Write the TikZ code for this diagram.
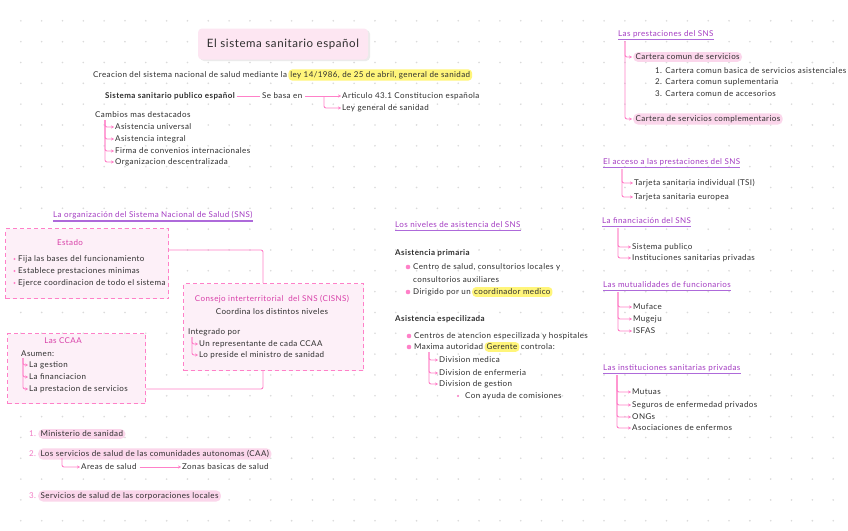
\documentclass[tikz,border=0pt]{standalone}
\usepackage{fontspec}
\setmainfont{Lato}[LetterSpace=5]
\usetikzlibrary{arrows.meta}
\definecolor{pk}{HTML}{FF80C8}
\definecolor{pkfill}{HTML}{FDF0F8}
\definecolor{pill}{HTML}{FBD6EB}
\definecolor{mag}{HTML}{D83FA8}
\definecolor{num}{HTML}{F27CC4}
\definecolor{pur}{HTML}{A43CC2}
\definecolor{purl}{HTML}{AE6ADA}
\definecolor{hl}{HTML}{FFF57A}
\definecolor{dotc}{HTML}{DADADA}
\definecolor{txt}{HTML}{2E2E2E}
\definecolor{ttl}{HTML}{FDE6F2}
\tikzset{
  t/.style={anchor=west, inner sep=0pt, font=\fontsize{8}{9}\selectfont, text=txt},
  tb/.style={t, font=\fontsize{8}{9}\selectfont\bfseries},
  conn/.style={draw=pk, line width=0.9pt, rounded corners=2pt},
  arr/.style={conn, -{Stealth[length=3pt,width=3.2pt]}, shorten >=1pt},
  hdr/.style={t, text=pur},
  ul/.style={draw=purl, line width=1.2pt},
  hlbox/.style={t, fill=hl, rounded corners=4pt, inner xsep=2pt, inner ysep=2pt},
  pillbox/.style={t, fill=pill, rounded corners=5pt, inner xsep=2.5pt, inner ysep=2pt},
  dbox/.style={draw=pk, dash pattern=on 4pt off 3pt, line width=1.1pt, fill=pkfill, anchor=north west, inner sep=0pt},
  mg/.style={t, text=mag, anchor=center},
  bul/.style={fill=pk, draw=none},
  nm/.style={t, text=num},
  ttlbox/.style={fill=ttl, rounded corners=4pt, minimum width=170pt, minimum height=31pt, font=\fontsize{11.5}{13}\selectfont, text=txt},
}
\begin{document}
\begin{tikzpicture}[x=1pt,y=-1pt]
\useasboundingbox[fill=white] (0,0) rectangle (848,530);
% dot grid
\foreach \i in {1,...,40}{\foreach \j in {1,...,25}{\fill[dotc] (\i*20.83,\j*20.83) circle (0.9);}}

% title
\fill[black!8, rounded corners=4pt] (200,30) rectangle (370,61);
\node[ttlbox] (title) at (283,44) {El sistema sanitario español};

% creation line
\node[t] (cre) at (93,75) {Creacion del sistema nacional de salud mediante la};
\node[hlbox, anchor=west] (ley) at ([xshift=1pt]cre.east) {ley 14/1986, de 25 de abril, general de sanidad};

\node[tb] (sis) at (105,96) {Sistema sanitario publico español};
\node[t] (base) at (262,96) {Se basa en};
\node[t] (art) at (342,96) {Articulo 43.1 Constitucion española};
\node[t] (lgs) at (342,108) {Ley general de sanidad};
\draw[conn, shorten <=2pt, shorten >=2pt] (sis.east) -- (base.west);
\draw[arr, shorten <=3pt] (base.east) -- (art.west);
\coordinate (b1) at (324,96);
\draw[arr] (b1) |- (lgs.west);

\node[t] (camb) at (95,115) {Cambios mas destacados};
\coordinate (tc) at (105,120);
\node[t] (c1) at (115,127) {Asistencia universal};
\node[t] (c2) at (115,139) {Asistencia integral};
\node[t] (c3) at (115,151) {Firma de convenios internacionales};
\node[t] (c4) at (115,162) {Organizacion descentralizada};
\foreach \n in {c1,c2,c3,c4}{\draw[arr] (tc) |- (\n.west);}

% ---- right column
\node[hdr] (h1) at (618,34) {Las prestaciones del SNS};
\draw[ul] ([yshift=-2pt]h1.south west) -- ([yshift=-2pt]h1.south east);
\coordinate (tr1) at (625,41);
\node[pillbox] (p1) at (633,57) {Cartera comun de servicios};
\node[t] (p11) at (655,71) {1. Cartera comun basica de servicios asistenciales};
\node[t] (p12) at (655,82) {2. Cartera comun suplementaria};
\node[t] (p13) at (655,94) {3. Cartera comun de accesorios};
\node[pillbox] (p2) at (633,119) {Cartera de servicios complementarios};
\foreach \n in {p1,p2}{\draw[arr] (tr1) |- (\n.west);}

\node[hdr] (h2) at (603,162) {El acceso a las prestaciones del SNS};
\draw[ul] ([yshift=-2pt]h2.south west) -- ([yshift=-2pt]h2.south east);
\coordinate (tr2) at (622,169);
\node[t] (a1) at (634,183) {Tarjeta sanitaria individual (TSI)};
\node[t] (a2) at (634,197) {Tarjeta sanitaria europea};
\foreach \n in {a1,a2}{\draw[arr] (tr2) |- (\n.west);}

\node[hdr] (h3) at (602,221) {La financiación del SNS};
\draw[ul] ([yshift=-2pt]h3.south west) -- ([yshift=-2pt]h3.south east);
\coordinate (tr3) at (618,228);
\node[t] (f1) at (632,247) {Sistema publico};
\node[t] (f2) at (632,258) {Instituciones sanitarias privadas};
\foreach \n in {f1,f2}{\draw[arr] (tr3) |- (\n.west);}

\node[hdr] (h4) at (603,285) {Las mutualidades de funcionarios};
\draw[ul] ([yshift=-2pt]h4.south west) -- ([yshift=-2pt]h4.south east);
\coordinate (tr4) at (618,292);
\node[t] (m1) at (633,307) {Muface};
\node[t] (m2) at (633,319) {Mugeju};
\node[t] (m3) at (633,331) {ISFAS};
\foreach \n in {m1,m2,m3}{\draw[arr] (tr4) |- (\n.west);}

\node[hdr] (h5) at (603,368) {Las instituciones sanitarias privadas};
\draw[ul] ([yshift=-2pt]h5.south west) -- ([yshift=-2pt]h5.south east);
\coordinate (tr5) at (617,375);
\node[t] (i1) at (632,392) {Mutuas};
\node[t] (i2) at (632,405) {Seguros de enfermedad privados};
\node[t] (i3) at (632,417) {ONGs};
\node[t] (i4) at (632,428) {Asociaciones de enfermos};
\foreach \n in {i1,i2,i3,i4}{\draw[arr] (tr5) |- (\n.west);}

% ---- organizacion
\node[hdr] (h6) at (53,215) {La organización del Sistema Nacional de Salud (SNS)};
\draw[ul] ([yshift=-2pt]h6.south west) -- ([yshift=-2pt]h6.south east);

\node[dbox, minimum width=163pt, minimum height=70pt] (est) at (5,228) {};
\node[mg] (estt) at (70,243) {Estado};
\node[t] (e1) at (18,259) {Fija las bases del funcionamiento};
\node[t] (e2) at (18,271) {Establece prestaciones minimas};
\node[t] (e3) at (18,283) {Ejerce coordinacion de todo el sistema};
\foreach \n in {e1,e2,e3}{\fill[bul] ([xshift=-3.5pt]\n.west) circle (1.1);}

\node[dbox, minimum width=180pt, minimum height=87pt] (cis) at (183,283) {};
\node[mg] (cist) at (272,299) {Consejo interterritorial\ \ del SNS (CISNS)};
\node[t, anchor=center] (cisc) at (272,312) {Coordina los distintos niveles};
\node[t] (integ) at (188,332) {Integrado por};
\coordinate (tcis) at (192,337);
\node[t] (ci1) at (199,344) {Un representante de cada CCAA};
\node[t] (ci2) at (199,355) {Lo preside el ministro de sanidad};
\foreach \n in {ci1,ci2}{\draw[arr] (tcis) |- (\n.west);}

\node[dbox, minimum width=138pt, minimum height=70pt] (ccaa) at (7,333) {};
\node[mg] (ccaat) at (63,341) {Las CCAA};
\node[t] (asu) at (21,354) {Asumen:};
\coordinate (tcc) at (23,358);
\node[t] (cc1) at (29,365) {La gestion};
\node[t] (cc2) at (29,377) {La financiacion};
\node[t] (cc3) at (29,389) {La prestacion de servicios};
\foreach \n in {cc1,cc2,cc3}{\draw[arr] (tcc) |- (\n.west);}

\coordinate (j1) at (263,250);
\coordinate (j2) at (263,389);
\draw[conn] (est.east |- j1) -- (j1) -- (cis.north -| j1);
\draw[conn] (ccaa.east |- j2) -- (j2) -- (cis.south -| j2);

% ---- niveles
\node[hdr] (h7) at (395,225) {Los niveles de asistencia del SNS};
\draw[ul] ([yshift=-2pt]h7.south west) -- ([yshift=-2pt]h7.south east);
\node[tb] (ap) at (395,253) {Asistencia primaria};
\node[t] (ap1) at (413,267) {Centro de salud, consultorios locales y};
\node[t] (ap1b) at (413,280) {consultorios auxiliares};
\node[t] (ap2) at (413,292) {Dirigido por un};
\node[hlbox, anchor=west] (coord) at ([xshift=1pt]ap2.east) {coordinador medico};
\node[tb] (ae) at (395,319) {Asistencia especilizada};
\node[t] (ae1) at (414,336) {Centros de atencion especilizada y hospitales};
\node[t] (ae2) at (414,347) {Maxima autoridad};
\node[hlbox, anchor=west] (ger) at ([xshift=1pt]ae2.east) {Gerente};
\node[t, anchor=west] (ae2b) at ([xshift=1pt]ger.east) {controla:};
\foreach \n in {ap1,ap2,ae1,ae2}{\fill[bul] ([xshift=-5pt]\n.west) circle (2.3);}
\coordinate (tae) at (429,352);
\node[t] (d1) at (439,360) {Division medica};
\node[t] (d2) at (439,373) {Division de enfermeria};
\node[t] (d3) at (439,384) {Division de gestion};
\foreach \n in {d1,d2,d3}{\draw[arr] (tae) |- (\n.west);}
\node[t] (com) at (465,396) {Con ayuda de comisiones};
\fill[bul] ([xshift=-7pt]com.west) circle (1.1);

% ---- bottom list
\node[nm] (n1) at (29,434) {1.};
\node[pillbox] (s1) at (38,434) {Ministerio de sanidad};
\node[nm] (n2) at (29,454) {2.};
\node[pillbox] (s2) at (38,454) {Los servicios de salud de las comunidades autonomas (CAA)};
\node[nm] (n3) at (29,496) {3.};
\node[pillbox] (s3) at (38,496) {Servicios de salud de las corporaciones locales};
\coordinate (ts2) at (62,458);
\node[t] (ar) at (81,467) {Areas de salud};
\node[t] (zb) at (182,467) {Zonas basicas de salud};
\draw[arr] (ts2) |- (ar.west);
\draw[arr, shorten <=3pt] (ar.east) -- (zb.west);
\end{tikzpicture}
\end{document}
